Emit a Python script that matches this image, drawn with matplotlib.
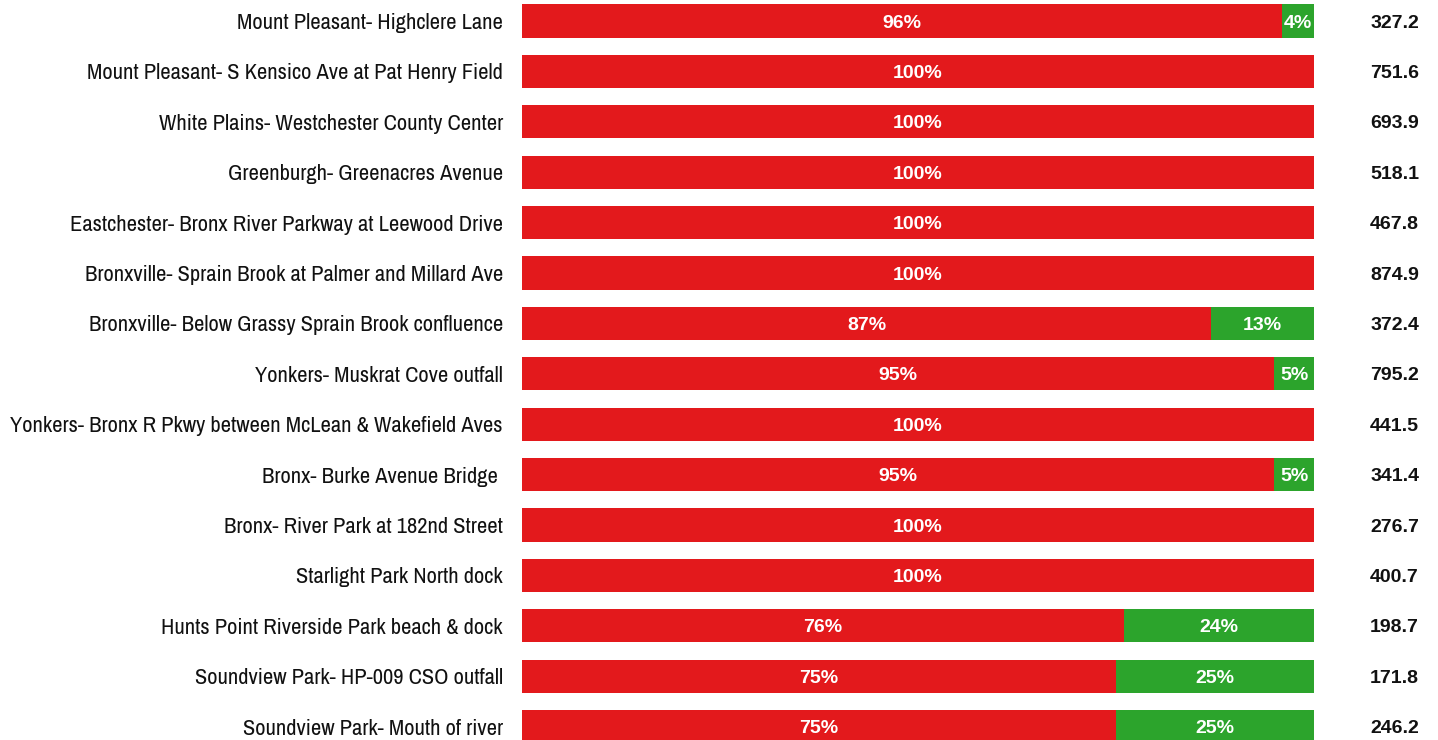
import matplotlib
matplotlib.use("Agg")
import matplotlib.pyplot as plt

sites = [
    "Mount Pleasant- Highclere Lane",
    "Mount Pleasant- S Kensico Ave at Pat Henry Field",
    "White Plains- Westchester County Center",
    "Greenburgh- Greenacres Avenue",
    "Eastchester- Bronx River Parkway at Leewood Drive",
    "Bronxville- Sprain Brook at Palmer and Millard Ave",
    "Bronxville- Below Grassy Sprain Brook confluence",
    "Yonkers- Muskrat Cove outfall",
    "Yonkers- Bronx R Pkwy between McLean & Wakefield Aves",
    "Bronx- Burke Avenue Bridge ",
    "Bronx- River Park at 182nd Street",
    "Starlight Park North dock",
    "Hunts Point Riverside Park beach & dock",
    "Soundview Park- HP-009 CSO outfall",
    "Soundview Park- Mouth of river",
]
fail_pct = [96, 100, 100, 100, 100, 100, 87, 95, 100, 95, 100, 100, 76, 75, 75]
pass_pct = [4, 0, 0, 0, 0, 0, 13, 5, 0, 5, 0, 0, 24, 25, 25]
totals = ["327.2", "751.6", "693.9", "518.1", "467.8", "874.9", "372.4", "795.2",
          "441.5", "341.4", "276.7", "400.7", "198.7", "171.8", "246.2"]

RED = "#e3191c"
GREEN = "#2ca42c"
BOLD = ["Liberation Sans", "DejaVu Sans"]
NARROW = ["Archivo Narrow", "Roboto Condensed", "Liberation Sans", "DejaVu Sans"]

fig = plt.figure(figsize=(14.38, 7.4), dpi=100)
ax = fig.add_axes([522 / 1438, 0, 792 / 1438, 1])

rows = list(range(len(sites)))
h = 0.655
ax.barh(rows, fail_pct, height=h, color=RED)
ax.barh(rows, pass_pct, left=fail_pct, height=h, color=GREEN)

ax.set_xlim(0, 100)
ax.set_ylim((740 - 21) / 50.4, -21 / 50.4)

for i in rows:
    f, p = fail_pct[i], pass_pct[i]
    if f > 0:
        ax.text(f / 2, i, f"{f}%", ha="center", va="center_baseline", color="white",
                fontsize=14, fontweight="bold", family=BOLD)
    if p > 0:
        ax.text(f + p / 2, i, f"{p}%", ha="center", va="center_baseline", color="white",
                fontsize=14, fontweight="bold", family=BOLD)
    ax.text(107.1, i, totals[i], ha="left", va="center_baseline", color="#111111",
            fontsize=14, fontweight="bold", family=BOLD)
    ax.text(-2.4, i, sites[i], ha="right", va="center_baseline", color="#111111",
            fontsize=16.2, family=NARROW)

ax.axis("off")
fig.savefig("out.png", dpi=100)
plt.close(fig)
